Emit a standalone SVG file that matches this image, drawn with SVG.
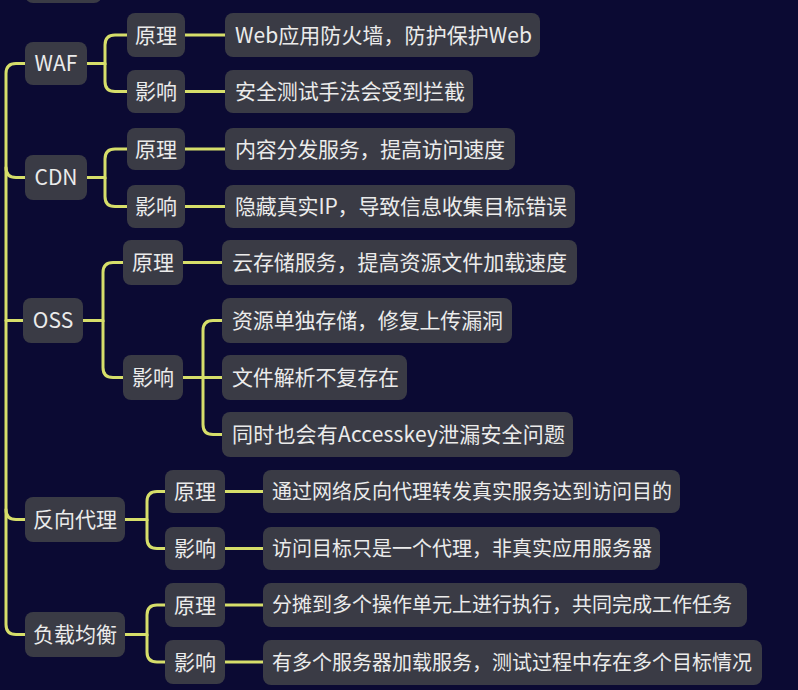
<svg xmlns="http://www.w3.org/2000/svg" width="798" height="690" viewBox="0 0 798 690">
<style>
.bg{fill:#0b0a33}
.n rect{fill:#3a3b45}
.n text{font-family:"Noto Sans CJK SC","Noto Sans",sans-serif;font-size:21px;fill:#ebebeb}
.n text.s{font-size:20px}
.c{text-anchor:middle}
#connectors path{fill:none;stroke:#d6de6a;stroke-width:3;stroke-linecap:round}
</style>
<rect class="bg" x="0" y="0" width="798" height="690"/>
<g id="connectors">
<path d="M25,63.5 H16 Q6,63.5 6,73.5 V624.5 Q6,634.5 16,634.5 H25"/>
<path d="M6,167.5 Q6,177.5 16,177.5 H25"/>
<path d="M6,320.5 H23"/>
<path d="M6,509.5 Q6,519.5 16,519.5 H25"/>
<path d="M87,63.5 H105 V45 Q105,35 115,35 H127"/>
<path d="M105,63.5 V81.5 Q105,91.5 115,91.5 H127"/>
<path d="M185,35 H225"/>
<path d="M185,91.5 H225"/>
<path d="M87,177.5 H105 V159 Q105,149 115,149 H127"/>
<path d="M105,177.5 V196.5 Q105,206.5 115,206.5 H127"/>
<path d="M185,149 H225"/>
<path d="M185,206.5 H225"/>
<path d="M83,320.5 H103 V272.5 Q103,262.5 113,262.5 H123"/>
<path d="M103,320.5 V367.5 Q103,377.5 113,377.5 H123"/>
<path d="M183,262.5 H222"/>
<path d="M183,377.5 H222"/>
<path d="M203,377.5 V330.5 Q203,320.5 213,320.5 H222"/>
<path d="M203,377.5 V424.5 Q203,434.5 213,434.5 H222"/>
<path d="M125,519.5 H147 V501.5 Q147,491.5 157,491.5 H165"/>
<path d="M147,519.5 V538.5 Q147,548.5 157,548.5 H165"/>
<path d="M225,491.5 H263"/>
<path d="M225,548.5 H263"/>
<path d="M125,634.5 H147 V615 Q147,605 157,605 H165"/>
<path d="M147,634.5 V652 Q147,662 157,662 H165"/>
<path d="M225,605 H263"/>
<path d="M225,662 H263"/>
</g>
<g id="top-partial" class="n"><rect x="25" y="-40" width="77" height="43" rx="8"/></g>
<g id="waf" class="n"><rect x="25" y="42" width="62" height="43" rx="8"/><text class="c" x="56" y="71">WAF</text></g>
<g id="waf-p" class="n"><rect x="127" y="13" width="58" height="44" rx="8"/><text class="c" x="156" y="42.5">原理</text></g>
<g id="waf-i" class="n"><rect x="127" y="70" width="58" height="43" rx="8"/><text class="c" x="156" y="99">影响</text></g>
<g id="waf-p1" class="n"><rect x="225" y="13" width="315" height="44" rx="8"/><text x="235" y="42.5" textLength="297">Web应用防火墙，防护保护Web</text></g>
<g id="waf-i1" class="n"><rect x="225" y="70" width="248" height="43" rx="8"/><text x="235" y="99" textLength="230">安全测试手法会受到拦截</text></g>
<g id="cdn" class="n"><rect x="25" y="155" width="62" height="45" rx="8"/><text class="c" x="56" y="185">CDN</text></g>
<g id="cdn-p" class="n"><rect x="127" y="128" width="58" height="42" rx="8"/><text class="c" x="156" y="156.5">原理</text></g>
<g id="cdn-i" class="n"><rect x="127" y="185" width="58" height="43" rx="8"/><text class="c" x="156" y="214">影响</text></g>
<g id="cdn-p1" class="n"><rect x="225" y="128" width="290" height="42" rx="8"/><text x="235" y="156.5" textLength="270">内容分发服务，提高访问速度</text></g>
<g id="cdn-i1" class="n"><rect x="225" y="185" width="350" height="43" rx="8"/><text x="235" y="214" textLength="332">隐藏真实IP，导致信息收集目标错误</text></g>
<g id="oss" class="n"><rect x="23" y="298" width="60" height="45" rx="8"/><text class="c" x="53" y="328">OSS</text></g>
<g id="oss-p" class="n"><rect x="123" y="240" width="60" height="45" rx="8"/><text class="c" x="153" y="270">原理</text></g>
<g id="oss-i" class="n"><rect x="123" y="355" width="60" height="45" rx="8"/><text class="c" x="153" y="385">影响</text></g>
<g id="oss-p1" class="n"><rect x="222" y="240" width="355" height="45" rx="8"/><text x="232" y="270" textLength="335">云存储服务，提高资源文件加载速度</text></g>
<g id="oss-i1" class="n"><rect x="222" y="298" width="290" height="45" rx="8"/><text x="232" y="328" textLength="271">资源单独存储，修复上传漏洞</text></g>
<g id="oss-i2" class="n"><rect x="222" y="355" width="185" height="45" rx="8"/><text x="232" y="385" textLength="167">文件解析不复存在</text></g>
<g id="oss-i3" class="n"><rect x="222" y="412" width="351" height="45" rx="8"/><text x="232" y="442" textLength="333">同时也会有Accesskey泄漏安全问题</text></g>
<g id="proxy" class="n"><rect x="25" y="497" width="100" height="45" rx="8"/><text class="c" x="75" y="527">反向代理</text></g>
<g id="proxy-p" class="n"><rect x="165" y="470" width="60" height="43" rx="8"/><text class="c" x="195" y="499">原理</text></g>
<g id="proxy-i" class="n"><rect x="165" y="527" width="60" height="43" rx="8"/><text class="c" x="195" y="556">影响</text></g>
<g id="proxy-p1" class="n"><rect x="263" y="470" width="417" height="43" rx="8"/><text class="s" x="272" y="499" textLength="400">通过网络反向代理转发真实服务达到访问目的</text></g>
<g id="proxy-i1" class="n"><rect x="263" y="527" width="397" height="43" rx="8"/><text class="s" x="272" y="556" textLength="380">访问目标只是一个代理，非真实应用服务器</text></g>
<g id="lb" class="n"><rect x="25" y="612" width="100" height="45" rx="8"/><text class="c" x="75" y="642">负载均衡</text></g>
<g id="lb-p" class="n"><rect x="165" y="583" width="60" height="44" rx="8"/><text class="c" x="195" y="612.5">原理</text></g>
<g id="lb-i" class="n"><rect x="165" y="640" width="60" height="44" rx="8"/><text class="c" x="195" y="669.5">影响</text></g>
<g id="lb-p1" class="n"><rect x="263" y="583" width="484" height="44" rx="8"/><text class="s" x="272" y="612" textLength="460">分摊到多个操作单元上进行执行，共同完成工作任务</text></g>
<g id="lb-i1" class="n"><rect x="263" y="640" width="499" height="45" rx="8"/><text class="s" x="272" y="669.5" textLength="480">有多个服务器加载服务，测试过程中存在多个目标情况</text></g>
</svg>
